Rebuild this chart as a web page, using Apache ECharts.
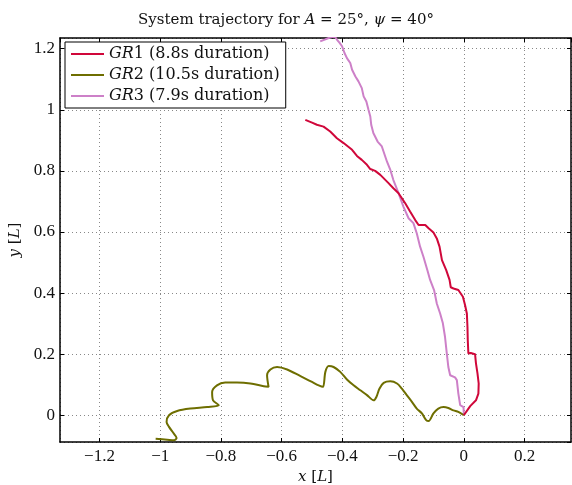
<!DOCTYPE html>
<html>
<head>
<meta charset="utf-8">
<script src="https://cdn.jsdelivr.net/npm/echarts@6/dist/echarts.min.js"></script>
<style>
  html, body { margin: 0; padding: 0; background: #fff; }
  #chart { width: 572px; height: 485px; }
</style>
</head>
<body>
<div id="chart"></div>
<script>
// series names and legend text
var names = ['GR1', 'GR2', 'GR3'];
var durations = ['8.8s', '10.5s', '7.9s'];
var colors = ['#d0073a', '#6e6e00', '#cd80c8'];

// GR1 trajectory
var gr1X = [0, 0.021, 0.040, 0.048, 0.049, 0.045, 0.040, 0.037, 0.032, 0.023, 0.015, 0.013, 0.012, 0.010, 0.004, -0.003, -0.018, -0.034, -0.043, -0.047, -0.058, -0.072, -0.080, -0.089, -0.100, -0.116, -0.127, -0.133, -0.149, -0.160, -0.177, -0.193, -0.215, -0.232, -0.248, -0.275, -0.292, -0.308, -0.319, -0.336, -0.352, -0.368, -0.396, -0.418, -0.440, -0.462, -0.484, -0.500, -0.522];
var gr1Y = [0, 0.030, 0.049, 0.071, 0.104, 0.137, 0.170, 0.200, 0.204, 0.204, 0.202, 0.246, 0.290, 0.333, 0.361, 0.388, 0.410, 0.415, 0.419, 0.443, 0.475, 0.508, 0.552, 0.579, 0.598, 0.612, 0.623, 0.623, 0.623, 0.639, 0.667, 0.694, 0.727, 0.743, 0.760, 0.787, 0.800, 0.806, 0.820, 0.836, 0.849, 0.869, 0.891, 0.907, 0.929, 0.945, 0.951, 0.958, 0.967];

// GR2 trajectory
var gr2X = [0, -0.018, -0.034, -0.051, -0.067, -0.084, -0.100, -0.116, -0.124, -0.138, -0.155, -0.171, -0.188, -0.204, -0.220, -0.242, -0.264, -0.278, -0.288, -0.297, -0.319, -0.341, -0.363, -0.385, -0.407, -0.429, -0.445, -0.456, -0.464, -0.478, -0.500, -0.522, -0.538, -0.582, -0.615, -0.637, -0.648, -0.643, -0.659, -0.703, -0.747, -0.786, -0.813, -0.829, -0.826, -0.807, -0.845, -0.900, -0.944, -0.971, -0.979, -0.971, -0.955, -0.946, -0.955, -0.977, -1.015];
var gr2Y = [0, 0.011, 0.016, 0.024, 0.027, 0.022, 0.006, -0.019, -0.016, 0.006, 0.022, 0.044, 0.066, 0.087, 0.104, 0.111, 0.106, 0.087, 0.060, 0.049, 0.066, 0.082, 0.098, 0.117, 0.142, 0.158, 0.161, 0.142, 0.093, 0.098, 0.109, 0.120, 0.128, 0.150, 0.158, 0.150, 0.131, 0.093, 0.095, 0.104, 0.107, 0.107, 0.098, 0.076, 0.049, 0.033, 0.027, 0.022, 0.014, 0, -0.022, -0.038, -0.060, -0.074, -0.082, -0.080, -0.077];

// GR3 trajectory
var gr3X = [0, -0.001, -0.012, -0.018, -0.023, -0.029, -0.045, -0.051, -0.056, -0.062, -0.069, -0.078, -0.089, -0.098, -0.111, -0.120, -0.133, -0.144, -0.155, -0.166, -0.182, -0.199, -0.215, -0.232, -0.242, -0.253, -0.270, -0.284, -0.298, -0.305, -0.308, -0.314, -0.321, -0.330, -0.336, -0.347, -0.357, -0.368, -0.374, -0.385, -0.393, -0.401, -0.409, -0.418, -0.426, -0.445, -0.473];
var gr3Y = [0, 0.027, 0.033, 0.071, 0.115, 0.124, 0.131, 0.158, 0.202, 0.257, 0.301, 0.333, 0.366, 0.410, 0.443, 0.475, 0.519, 0.552, 0.596, 0.629, 0.645, 0.683, 0.727, 0.770, 0.803, 0.830, 0.880, 0.896, 0.924, 0.951, 0.978, 1.000, 1.027, 1.044, 1.071, 1.093, 1.109, 1.131, 1.153, 1.169, 1.186, 1.208, 1.219, 1.230, 1.241, 1.235, 1.224];

var xRange = [-1.33, 0.353];
var yRange = [-0.0875, 1.235];

function zip(xs, ys) {
    return xs.map(function (x, i) { return [x, ys[i]]; });
}
var allData = [zip(gr1X, gr1Y), zip(gr2X, gr2Y), zip(gr3X, gr3Y)];

var serif = 'DejaVu Serif';
var tickFont = 'Liberation Serif';

// only label multiples of 0.2, minus sign like the original
function tickLabel(v) {
    var k = v / 0.2;
    if (Math.abs(k - Math.round(k)) > 1e-6) return '';
    var s = String(Math.round(v * 10) / 10);
    return s.replace('-', '\u2212');
}

var gridDots = { color: '#888', width: 1, type: [1, 3] };

var chart = echarts.init(document.getElementById('chart'));
var option = {
    animation: false,
    backgroundColor: '#fff',
    title: {
        text: 'System trajectory for {i|A} = 25°, {i|ψ} = 40°',
        left: 'center',
        top: 8,
        textStyle: {
            fontFamily: serif, fontWeight: 'normal', fontSize: 15, color: '#111',
            rich: { i: { fontFamily: serif, fontStyle: 'italic', fontSize: 15, color: '#111' } }
        }
    },
    legend: {
        orient: 'vertical',
        left: 65,
        top: 42,
        padding: [3, 6, 3, 6],
        itemGap: 3,
        itemWidth: 33,
        itemHeight: 2,
        icon: 'rect',
        backgroundColor: '#fff',
        borderColor: '#000',
        borderWidth: 1,
        borderRadius: 0,
        data: names,
        formatter: function (name) {
            var i = names.indexOf(name);
            return '{i|GR}' + name.slice(2) + ' (' + durations[i] + ' duration)';
        },
        textStyle: {
            fontFamily: serif, fontSize: 16, color: '#111', lineHeight: 18,
            rich: { i: { fontFamily: serif, fontStyle: 'italic', fontSize: 16, color: '#111' } }
        }
    },
    grid: { left: 60, right: 1, top: 38, bottom: 43, outerBoundsMode: 'none' },
    xAxis: [
        {
            type: 'value', position: 'bottom',
            min: xRange[0], max: xRange[1], splitNumber: 8,
            name: '{i|x} [{i|L}]',
            nameLocation: 'middle', nameGap: 25,
            nameTextStyle: {
                fontFamily: serif, fontSize: 15, color: '#111',
                rich: { i: { fontFamily: serif, fontStyle: 'italic', fontSize: 15, color: '#111' } }
            },
            axisLine: { onZero: false, lineStyle: { color: '#000', width: 1.5 } },
            axisTick: { inside: true, length: 4, lineStyle: { color: '#000' } },
            axisLabel: { formatter: tickLabel, fontFamily: tickFont, fontSize: 17, color: '#111', margin: 6, showMinLabel: false, showMaxLabel: false },
            splitLine: { show: true, lineStyle: gridDots }
        },
        {
            type: 'value', position: 'top',
            min: xRange[0], max: xRange[1], splitNumber: 8,
            axisLine: { onZero: false, lineStyle: { color: '#000', width: 1.5 } },
            axisTick: { inside: true, length: 4, lineStyle: { color: '#000' } },
            axisLabel: { show: false },
            splitLine: { show: false }
        }
    ],
    yAxis: [
        {
            type: 'value', position: 'left',
            min: yRange[0], max: yRange[1], splitNumber: 7,
            name: '{i|y} [{i|L}]',
            nameLocation: 'middle', nameGap: 36, nameRotate: 90,
            nameTextStyle: {
                fontFamily: serif, fontSize: 15, color: '#111',
                rich: { i: { fontFamily: serif, fontStyle: 'italic', fontSize: 15, color: '#111' } }
            },
            axisLine: { onZero: false, lineStyle: { color: '#000', width: 1.5 } },
            axisTick: { inside: true, length: 4, lineStyle: { color: '#000' } },
            axisLabel: { formatter: tickLabel, fontFamily: tickFont, fontSize: 17, color: '#111', margin: 5, showMinLabel: false, showMaxLabel: false },
            splitLine: { show: true, lineStyle: gridDots }
        },
        {
            type: 'value', position: 'right',
            min: yRange[0], max: yRange[1], splitNumber: 7,
            axisLine: { onZero: false, lineStyle: { color: '#000', width: 1.5 } },
            axisTick: { inside: true, length: 4, lineStyle: { color: '#000' } },
            axisLabel: { show: false },
            splitLine: { show: false }
        }
    ],
    series: names.map(function (n, i) {
        return {
            name: n,
            type: 'line',
            xAxisIndex: 0,
            yAxisIndex: 0,
            data: allData[i],
            symbol: 'none',
            smooth: i === 1 ? 0.3 : false,
            clip: true,
            lineStyle: { color: colors[i], width: 2 },
            itemStyle: { color: colors[i] },
            z: 3 - i
        };
    })
};
chart.setOption(option);

window.addEventListener('resize', function () {
    chart.resize();
});
</script>
</body>
</html>
